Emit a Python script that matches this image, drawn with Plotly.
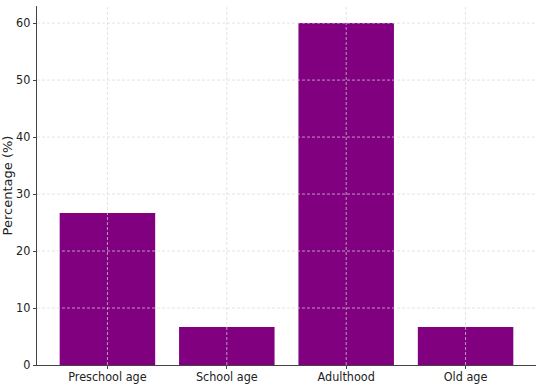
import plotly.graph_objects as go

categories = ["Preschool age", "School age", "Adulthood", "Old age"]
values = [26.67, 6.67, 60.0, 6.67]
y_ticks = [0, 10, 20, 30, 40, 50, 60]

tick_font = dict(family="DejaVu Sans Condensed, DejaVu Sans, sans-serif", size=12.5, color="#222")

fig = go.Figure()
fig.add_trace(go.Bar(x=categories, y=values, marker=dict(color="#800080", line=dict(width=0)), width=0.8))

grid = dict(color="#d8d8d8", width=0.7, dash="3px,2px")
shapes = []
for t in y_ticks[1:]:
    shapes.append(dict(type="line", xref="paper", x0=0, x1=1, yref="y", y0=t, y1=t,
                       line=grid, layer="above"))
for c in categories:
    shapes.append(dict(type="line", xref="x", x0=c, x1=c, yref="paper", y0=0, y1=1,
                       line=grid, layer="above"))

fig.update_layout(
    width=541, height=384,
    margin=dict(l=37, r=5, t=6, b=19, autoexpand=False),
    plot_bgcolor="white", paper_bgcolor="white",
    font=dict(family="DejaVu Sans", size=12, color="#222"),
    showlegend=False,
    shapes=shapes,
    xaxis=dict(range=[-0.59, 3.59], showgrid=False, showline=True, linecolor="#444", linewidth=1.2,
               ticks="outside", ticklen=3, tickcolor="#444", tickfont=tick_font, automargin=False,
               ticklabelstandoff=-3),
    yaxis=dict(range=[0, 63], tickvals=y_ticks, showgrid=False, showline=True, linecolor="#444",
               linewidth=1.2, ticks="outside", ticklen=3, tickcolor="#444", zeroline=False,
               title=dict(text="Percentage (%)", font=dict(family="DejaVu Sans", size=13, color="#222")),
               tickfont=tick_font, automargin=False),
)

fig.write_html("out.html", config={"displayModeBar": False},
               post_script="document.body.style.margin='0px';document.body.style.overflow='hidden';")
